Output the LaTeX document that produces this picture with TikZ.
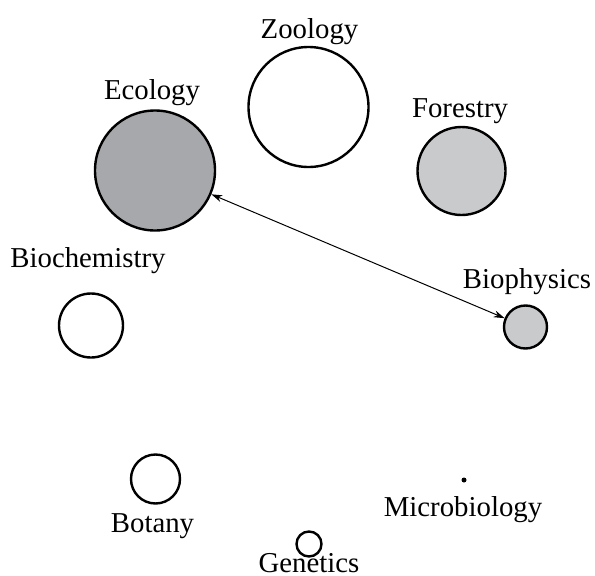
\documentclass[tikz,border=0pt]{standalone}
\usepackage{fontspec}
\setmainfont{Liberation Serif}
\usetikzlibrary{arrows.meta}
\definecolor{darkfill}{HTML}{A7A8AB}
\definecolor{lightfill}{HTML}{C9CACC}
\tikzset{
  bubble/.style={circle, draw=black, line width=2.4pt, inner sep=0pt, minimum size=#1},
  lbl/.style={anchor=base, inner sep=0pt, font=\fontsize{28.8}{34}\selectfont},
  link/.style={line width=1pt, {Stealth[length=11pt,width=7pt]}-{Stealth[length=11pt,width=7pt]}}
}
\begin{document}
\begin{tikzpicture}[x=1pt,y=-1pt]
\useasboundingbox (0,0) rectangle (595,576);
\node[bubble=120pt, fill=white] (zoo) at (308.5,107) {};
\node[lbl] (zool) at (309.5,38) {Zoology};
\node[bubble=120pt, fill=darkfill] (eco) at (155,170.5) {};
\node[lbl] (ecol) at (152,99) {Ecology};
\node[bubble=88pt, fill=lightfill] (for) at (461.5,171) {};
\node[lbl] (forl) at (460,117) {Forestry};
\node[bubble=64pt, fill=white] (bch) at (91,325.5) {};
\node[lbl] (bchl) at (88,267) {Biochemistry};
\node[bubble=43pt, fill=lightfill] (bph) at (525.5,327) {};
\node[lbl] (bphl) at (527,288) {Biophysics};
\node[bubble=49pt, fill=white] (bot) at (155.5,479) {};
\node[lbl] (botl) at (152.5,532) {Botany};
\node[circle, fill=black, inner sep=0pt, minimum size=5pt] (mic) at (464,480) {};
\node[lbl] (micl) at (463,516) {Microbiology};
\node[bubble=25pt, fill=white] (gen) at (309,544) {};
\node[lbl] (genl) at (309,572) {Genetics};
\draw[link] (eco) -- (bph);
\end{tikzpicture}
\end{document}
